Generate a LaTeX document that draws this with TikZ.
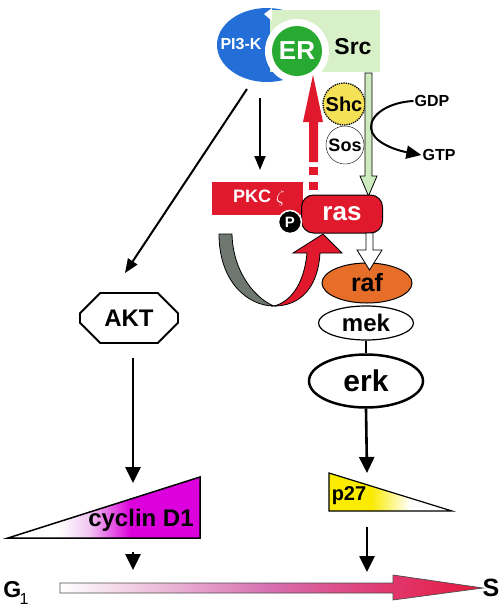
\documentclass[tikz,border=0pt]{standalone}
\usepackage{fontspec}
\setmainfont{Liberation Sans}
\usetikzlibrary{shapes.geometric,shapes.misc,arrows.meta}
\definecolor{pblue}{RGB}{35,110,215}
\definecolor{erg}{RGB}{40,170,50}
\definecolor{lgreen}{RGB}{215,240,200}
\definecolor{arrg}{RGB}{205,235,190}
\definecolor{shcy}{RGB}{245,225,85}
\definecolor{rred}{RGB}{225,25,45}
\definecolor{orng}{RGB}{230,110,40}
\definecolor{gry}{RGB}{110,120,112}
\definecolor{mag}{RGB}{220,0,220}
\definecolor{lmag}{RGB}{240,200,240}
\definecolor{yel}{RGB}{250,235,0}
\definecolor{pinkc}{RGB}{215,110,175}
\definecolor{pinkr}{RGB}{225,55,110}
\definecolor{barred}{RGB}{230,25,60}
\pgfdeclarehorizontalshading{p27sh}{100bp}{color(0bp)=(yel); color(42bp)=(yel); color(58bp)=(white); color(100bp)=(white)}
\pgfdeclarehorizontalshading{cycsh}{100bp}{color(0bp)=(white); color(38bp)=(white); color(46bp)=(lmag); color(57bp)=(mag); color(100bp)=(mag)}
\pgfdeclarehorizontalshading{barsh}{100bp}{color(0bp)=(white); color(25bp)=(white); color(50bp)=(pinkc); color(64bp)=(pinkr); color(75bp)=(barred); color(100bp)=(barred)}
\tikzset{
  fs/.style={font=\fontsize{#1}{#1}\selectfont\bfseries},
  arr/.style={line width=2.6pt,-{Triangle[length=16pt,width=15pt]}},
  thinarr/.style={line width=2pt,-{Triangle[length=14pt,width=11pt]}},
  outl/.style={draw=black,line width=0.8pt}
}
\begin{document}
\begin{tikzpicture}[x=1pt,y=-1pt]
\useasboundingbox (0,0) rectangle (504,614);
% top complex
\node[ellipse,fill=pblue,minimum width=100pt,minimum height=74pt,inner sep=0] (pi3k) at (267,45) {};
\node[rectangle,fill=lgreen,minimum width=110pt,minimum height=62pt,inner sep=0,anchor=north west] (src) at (270,10) {};
\fill[white] (264,14) -- (272,8) -- (272,21) -- cycle;
\node[circle,fill=white,minimum size=64pt,inner sep=0] (ring) at (297,51) {};
\node[circle,fill=erg,minimum size=50pt,inner sep=0,text=white,fs=26] (er) at (297,51) {ER};
\node[text=white,fs=16] (pi3klab) at (241,44) {PI3-K};
\node[fs=23] (srclab) at (353,47) {Src};
% red dashed up arrow
\fill[rred] (309,162) -- (309,122) -- (303,122) -- (313,75) -- (323,122) -- (318,122) -- (318,162) -- cycle;
\fill[rred] (309,167) rectangle (318,175);
\fill[rred] (309,182) rectangle (318,190);
% Shc / Sos
\node[circle,fill=white,draw=black,line width=0.4pt,minimum size=38pt,inner sep=0,fs=18] (sos) at (345,145) {Sos};
\node[circle,fill=shcy,draw=black,densely dotted,line width=1.3pt,minimum size=42pt,inner sep=0,fs=20] (shc) at (344,104) {Shc};
% light green arrow
\filldraw[fill=arrg,outl] (365,73) -- (365,176) -- (360,176) -- (368.5,196) -- (377,176) -- (372,176) -- (372,73) -- cycle;
% GDP GTP
\node[fs=16,inner sep=1pt] (gdp) at (432,101) {GDP};
\node[fs=16,inner sep=1pt] (gtp) at (439,155) {GTP};
\draw[line width=2pt,-{Triangle[length=15pt,width=13pt]}] (gdp.west) .. controls (390,102) and (370,114) .. (371,128) .. controls (372,142) and (395,150) .. (gtp.west);
% PKC
\node[rectangle,fill=rred,minimum width=91pt,minimum height=33pt,inner sep=0,anchor=north west] (pkc) at (212,182) {};
\node[text=white,fs=18] (pkclab) at (259,198) {PKC \(\zeta\)};
% ras
\node[rectangle,rounded corners=12pt,fill=rred,draw=black,line width=1pt,minimum width=81pt,minimum height=38pt,inner sep=0,text=white,fs=26] (ras) at (342,214) {ras};
\node[circle,fill=black,draw=white,line width=1.5pt,minimum size=23pt,inner sep=0,text=white,fs=15] (p) at (290,222) {P};
% curved arrow
\filldraw[fill=gry,outl] (219,234) .. controls (219,282) and (248,306) .. (274,306) .. controls (258,300) and (233,275) .. (232,234) -- cycle;
\filldraw[fill=rred,outl] (274,306) .. controls (300,306) and (318,288) .. (320,253) -- (342,253) -- (323,234) -- (293,253) -- (307,253) .. controls (304,285) and (290,302) .. (274,306) -- cycle;
% raf mek erk
\node[ellipse,fill=orng,draw=black,line width=1pt,minimum width=90pt,minimum height=40pt,inner sep=0,fs=25] (raf) at (367,283) {raf};
\filldraw[fill=white,outl] (366,233) -- (366,250) -- (357,250) -- (369.5,270) -- (382,250) -- (373,250) -- (373,233) -- cycle;
\node[ellipse,fill=white,draw=black,line width=1.2pt,minimum width=95pt,minimum height=34pt,inner sep=0,fs=24] (mek) at (366,323) {mek};
\node[ellipse,fill=white,draw=black,line width=2.5pt,minimum width=114pt,minimum height=53pt,inner sep=0,fs=30] (erk) at (366,381) {erk};
\draw[line width=2pt] (mek.south) -- (erk.north);
% PI3K arrows
\coordinate (pa) at (260,98);
\coordinate (pb) at (260,170);
\draw[thinarr] (pa) -- (pb);
\coordinate (da) at (247,89);
\coordinate (db) at (125,273);
\draw[thinarr] (da) -- (db);
% AKT
\node[chamfered rectangle,chamfered rectangle xsep=10pt,chamfered rectangle ysep=12pt,draw=black,line width=1.8pt,minimum width=98pt,minimum height=50pt,inner sep=0,fs=24] (akt) at (129,318) {AKT};
\coordinate (ca) at (133,358);
\coordinate (cb) at (133,483);
\draw[arr] (ca) -- (cb);
% cyclin D1
\shade[shading=cycsh,draw=black,line width=1.5pt] (8,538) -- (200,477) -- (200,538) -- cycle;
\node[fs=24] (cyc) at (141,520) {cyclin D1};
\coordinate (cc) at (133,552);
\coordinate (cd) at (133,570);
\draw[arr] (cc) -- (cd);
% erk to p27
\coordinate (eb) at (367,473);
\draw[arr] (erk.south) -- (eb);
\shade[shading=p27sh,draw=black,line width=1.2pt] (329,473) -- (452,511) -- (329,511) -- cycle;
\node[fs=20] (p27) at (349,496) {p27};
\coordinate (pc) at (367,527);
\coordinate (pd) at (367,572);
\draw[arr] (pc) -- (pd);
% bottom bar
\shade[shading=barsh,draw=black!70,line width=0.7pt] (60,583) -- (393,583) -- (393,575) -- (483,588) -- (393,600) -- (393,593) -- (60,593) -- cycle;
\node[fs=23,inner sep=0] (g1) at (16,593) {G\kern-1.5pt\raisebox{-7pt}{\fontsize{16}{16}\selectfont\mdseries 1}};
\node[fs=25,inner sep=0] (s) at (491,588) {S};
\end{tikzpicture}
\end{document}
